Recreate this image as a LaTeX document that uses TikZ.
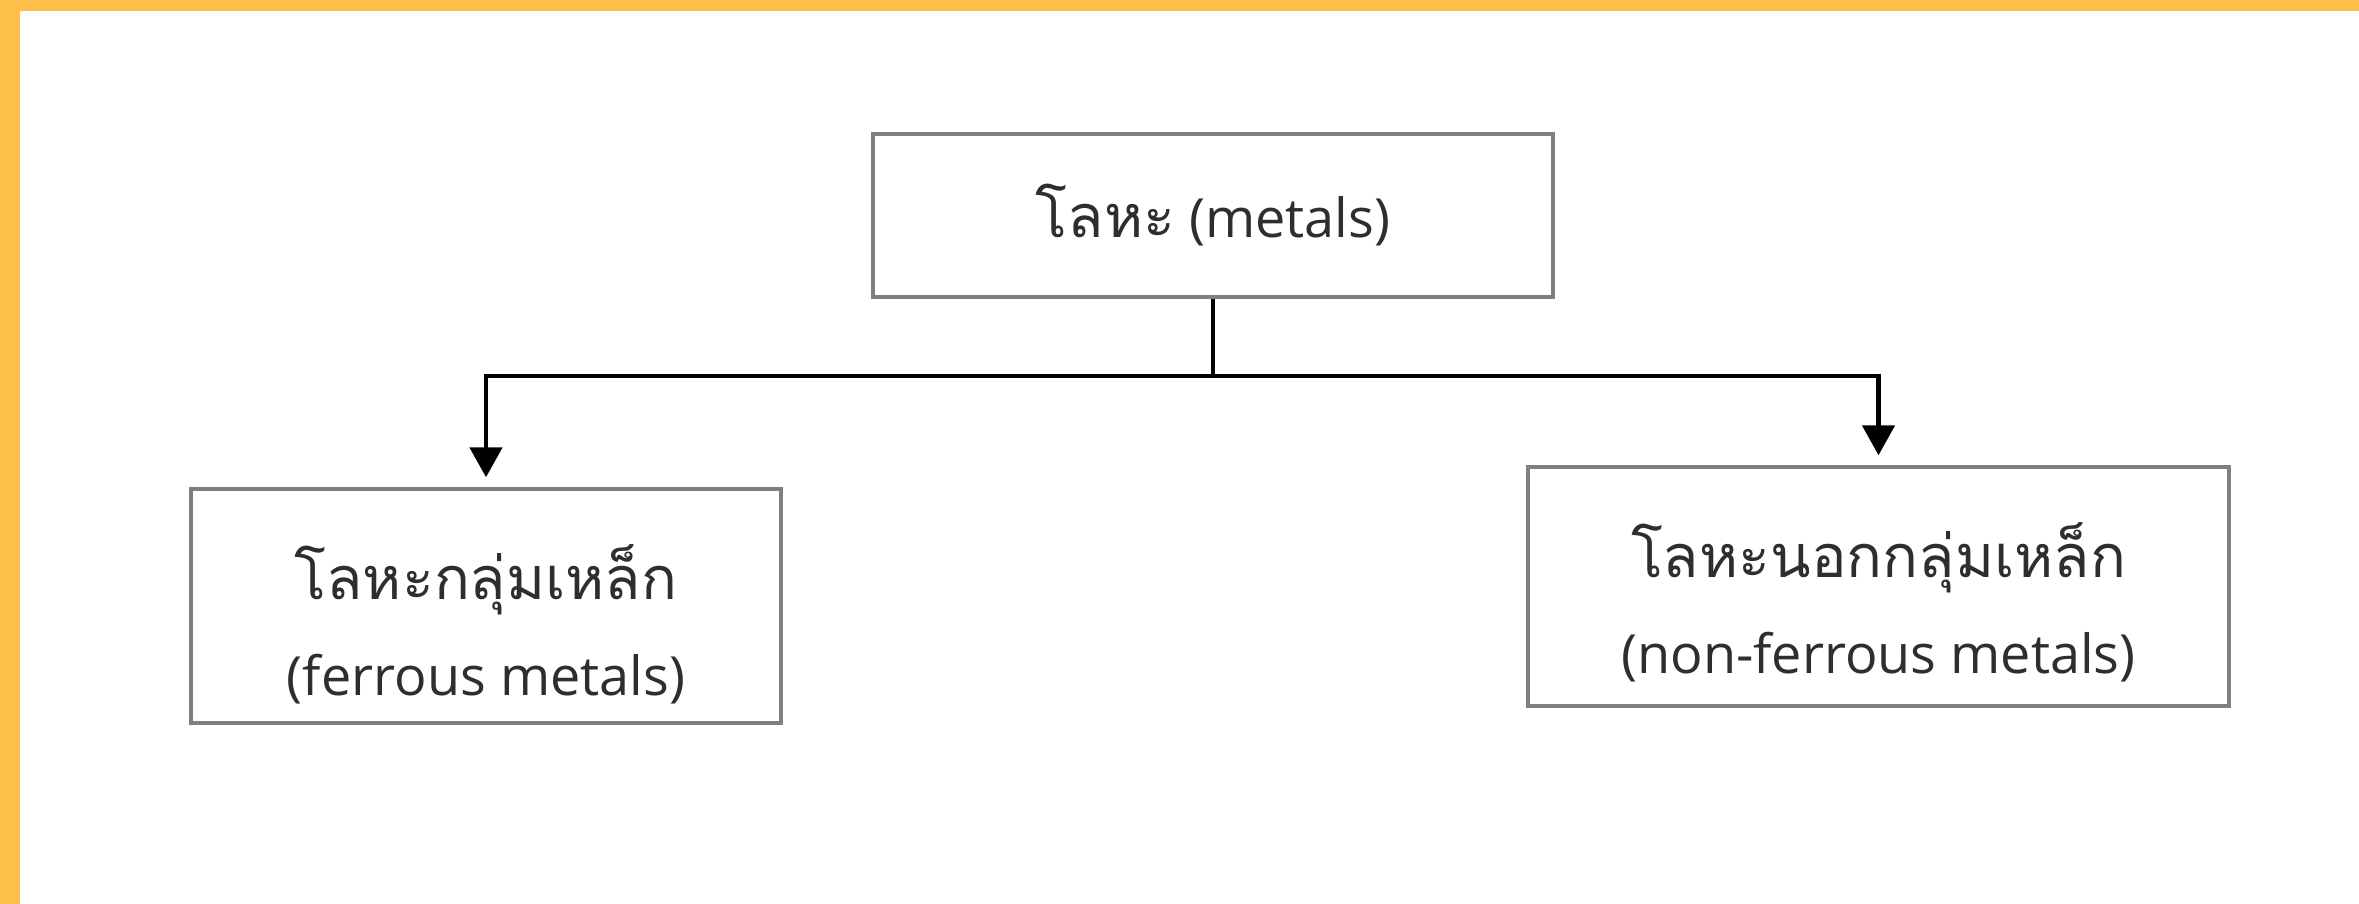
\documentclass[tikz,border=0pt]{standalone}
\usepackage{fontspec}
\setmainfont{Open Sans}
\newfontfamily\thaifont[Script=Thai,Scale=1.1]{Loma}
\usetikzlibrary{arrows.meta}

\definecolor{framegold}{HTML}{FEBF4A}
\definecolor{boxgray}{HTML}{7F7F7F}

\tikzset{
  catbox/.style={draw=boxgray, line width=1.7pt, fill=white, inner sep=0pt},
  boxtext/.style={align=center, inner sep=0pt,
    font=\fontsize{27}{48}\selectfont, text=black!82},
  link/.style={draw=black, line width=2.4pt, line join=miter},
  linkarrow/.style={link, -{Triangle[width=16pt,length=15pt]}, shorten >=5pt}
}

\begin{document}
\begin{tikzpicture}[x=0.5pt, y=-0.5pt]
  % canvas and the gold frame along the top and left edges
  \fill[white] (0,0) rectangle (2359,904);
  \useasboundingbox (0,0) rectangle (2359,904);
  \fill[framegold] (0,0) rectangle (2359,11);
  \fill[framegold] (0,0) rectangle (20,904);

  % category boxes
  \node[catbox, minimum width=340pt, minimum height=81.5pt] (metals) at (1213,215.5) {};
  \node[catbox, minimum width=295pt, minimum height=117pt] (ferrous) at (486,606) {};
  \node[catbox, minimum width=350.5pt, minimum height=119.5pt] (nonferrous) at (1878.5,586.5) {};

  % box captions
  \node[boxtext] (metalstext) at (metals.center) {{\thaifont โลหะ} (metals)};
  \node[boxtext] (ferroustext) at ([yshift=-9pt]ferrous.center)
    {{\thaifont โลหะกลุ่มเหล็ก}\\(ferrous metals)};
  \node[boxtext] (nonferroustext) at ([yshift=-8pt]nonferrous.center)
    {{\thaifont โลหะนอกกลุ่มเหล็ก}\\(non-ferrous metals)};

  % branching connectors
  \coordinate (split) at (1213,376);
  \draw[link] (metals.south) -- (split);
  \draw[linkarrow] (split) -| (ferrous.north);
  \draw[linkarrow] (split) -| (nonferrous.north);
\end{tikzpicture}
\end{document}
